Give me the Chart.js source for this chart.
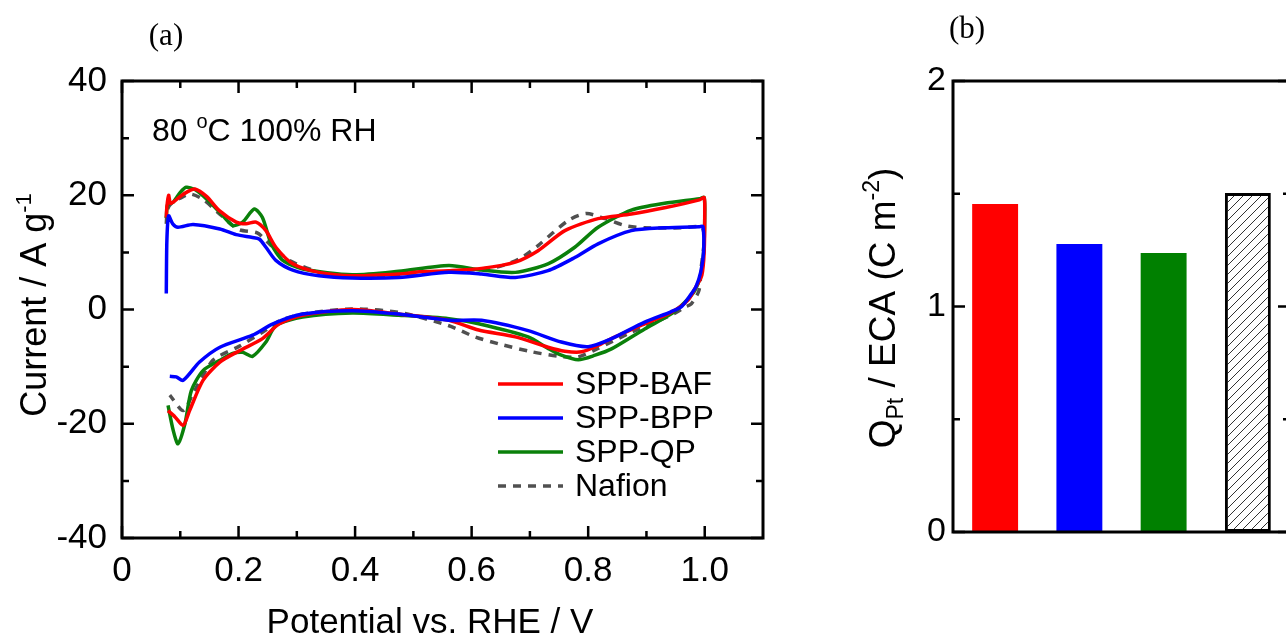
<!DOCTYPE html>
<html>
<head>
<meta charset="utf-8">
<script src="https://cdn.jsdelivr.net/npm/chart.js@4.4.1/dist/chart.umd.min.js"></script>
<style>
  html, body { margin: 0; padding: 0; background: #fff; overflow: hidden; }
  #wrap { position: relative; width: 1286px; height: 639px; overflow: hidden; }
  #cvChart { position: absolute; left: 0; top: 0; }
  #barChart { position: absolute; left: 800px; top: 0; }
</style>
</head>
<body>
<div id="wrap">
  <canvas id="cvChart" width="800" height="639"></canvas>
  <canvas id="barChart" width="520" height="639"></canvas>
</div>
<script>
// ---- data (a): cyclic voltammograms, anodic sweep then cathodic sweep ----
const bafV = [0.076, 0.077, 0.080, 0.083, 0.088, 0.100, 0.112, 0.125, 0.145, 0.167, 0.196, 0.213, 0.230, 0.247, 0.264, 0.293, 0.338, 0.395, 0.475, 0.510, 0.560, 0.617, 0.675, 0.714, 0.760, 0.817, 0.874, 0.931, 0.991, 0.999,
              1.000, 0.999, 0.995, 0.985, 0.971, 0.942, 0.897, 0.840, 0.817, 0.789, 0.760, 0.731, 0.675, 0.612, 0.561, 0.475, 0.395, 0.310, 0.270, 0.241, 0.202, 0.168, 0.139, 0.116, 0.105, 0.091, 0.079];
const bafI = [16.1, 18.0, 20.0, 18.6, 18.8, 19.8, 20.6, 21.1, 19.8, 17.3, 15.3, 15.0, 15.3, 13.8, 10.9, 8.0, 6.5, 5.9, 6.2, 6.6, 6.8, 7.2, 8.3, 10.3, 13.8, 15.9, 16.7, 17.8, 19.2, 19.6,
              17.0, 10.0, 6.0, 4.0, 1.6, -0.5, -2.5, -5.1, -6.3, -7.4, -7.3, -6.6, -4.8, -3.6, -1.9, -0.8, 0.0, -1.0, -2.5, -5.1, -7.2, -9.2, -12.4, -17.7, -20.3, -18.8, -17.7];

const bppV = [0.076, 0.077, 0.080, 0.087, 0.096, 0.122, 0.168, 0.196, 0.224, 0.236, 0.247, 0.264, 0.293, 0.338, 0.395, 0.475, 0.561, 0.617, 0.675, 0.731, 0.777, 0.817, 0.874, 0.931, 0.991, 0.997,
              0.998, 0.993, 0.985, 0.976, 0.960, 0.942, 0.897, 0.840, 0.800, 0.754, 0.697, 0.617, 0.561, 0.475, 0.395, 0.310, 0.259, 0.224, 0.168, 0.133, 0.105, 0.093, 0.082];
const bppI = [2.8, 12.0, 16.4, 15.0, 14.4, 14.9, 14.1, 13.1, 12.6, 12.3, 10.9, 8.6, 6.9, 5.9, 5.5, 5.6, 6.5, 6.2, 5.6, 6.8, 9.1, 11.5, 13.8, 14.3, 14.5, 14.5,
              10.0, 6.5, 4.0, 2.6, 0.5, -0.4, -2.2, -5.1, -6.5, -5.7, -3.7, -1.9, -1.9, -0.8, -0.2, -0.8, -2.5, -4.5, -6.6, -9.2, -12.4, -11.8, -11.7];

const qpV = [0.076, 0.078, 0.083, 0.088, 0.100, 0.110, 0.125, 0.139, 0.168, 0.190, 0.207, 0.227, 0.241, 0.256, 0.276, 0.310, 0.395, 0.475, 0.561, 0.617, 0.675, 0.731, 0.777, 0.817, 0.874, 0.931, 0.991, 0.999,
             1.000, 0.998, 0.993, 0.983, 0.965, 0.942, 0.897, 0.840, 0.812, 0.783, 0.754, 0.731, 0.697, 0.612, 0.561, 0.475, 0.395, 0.310, 0.264, 0.247, 0.224, 0.207, 0.190, 0.168, 0.139, 0.119, 0.108, 0.096, 0.088, 0.079];
const qpI = [16.0, 18.3, 18.6, 18.8, 20.5, 21.4, 21.0, 19.9, 17.0, 14.7, 15.3, 17.6, 16.1, 11.5, 8.6, 7.1, 6.1, 6.7, 7.7, 6.9, 6.5, 8.0, 10.9, 14.4, 17.4, 18.6, 19.4, 19.6,
             16.0, 10.0, 6.0, 3.3, 1.2, -0.8, -3.4, -6.9, -8.0, -8.8, -8.0, -6.8, -4.8, -2.5, -1.6, -1.0, -0.6, -1.3, -2.8, -5.7, -8.2, -7.5, -7.7, -8.9, -10.7, -14.2, -20.0, -23.5, -21.2, -16.8];

const nafV = [0.076, 0.078, 0.085, 0.100, 0.118, 0.140, 0.170, 0.200, 0.232, 0.253, 0.287, 0.340, 0.400, 0.500, 0.600, 0.650, 0.686, 0.714, 0.766, 0.797, 0.829, 0.863, 0.897, 0.960, 0.995,
              0.999, 0.994, 0.990, 0.977, 0.966, 0.942, 0.874, 0.817, 0.783, 0.750, 0.703, 0.646, 0.606, 0.560, 0.475, 0.395, 0.310, 0.270, 0.241, 0.200, 0.156, 0.122, 0.105, 0.082];
const nafI = [15.0, 17.5, 18.6, 19.5, 20.2, 19.2, 16.5, 14.0, 13.4, 11.5, 8.6, 6.5, 5.8, 6.3, 6.9, 7.6, 9.1, 11.2, 15.6, 16.8, 15.9, 14.7, 14.3, 14.3, 14.4,
              12.0, 7.4, 3.3, 1.0, 0.4, -1.0, -4.0, -6.8, -8.3, -8.2, -7.4, -6.0, -4.8, -2.8, -0.5, 0.1, -0.8, -2.0, -4.0, -6.5, -8.9, -14.7, -17.7, -15.0];

const seriesNames = ['SPP-BAF', 'SPP-BPP', 'SPP-QP', 'Nafion'];

const xTickValues = [0, 0.2, 0.4, 0.6, 0.8, 1.0];
const xTickLabels = ['0', '0.2', '0.4', '0.6', '0.8', '1.0'];
const xMinorValues = [0.1, 0.3, 0.5, 0.7, 0.9];
const yTickValues = [-40, -20, 0, 20, 40];
const yTickLabels = ['-40', '-20', '0', '20', '40'];
const yMinorValues = [-30, -10, 10, 30];

// ---- data (b): Q_Pt / ECA ----
const barLabels = ['SPP-BAF', 'SPP-BPP', 'SPP-QP', 'Nafion'];
const barValues = [1.455, 1.277, 1.237, 1.503];
const bTickValues = [0, 1, 2];
const bTickLabels = ['0', '1', '2'];
const bMinorValues = [0.5, 1.5];

const SANS = '"Liberation Sans", Arial, sans-serif';
const SERIF = '"Liberation Serif", "Times New Roman", serif';

function pts(xs, ys) {
    return xs.map((x, i) => ({ x: x, y: ys[i] }));
}

// text with sub/superscripts; parts = [{t, sup?, sub?}]
function drawRich(ctx, parts, x, y, size, rot, align) {
    ctx.save();
    ctx.translate(x, y);
    ctx.rotate(rot || 0);
    ctx.textBaseline = 'alphabetic';
    ctx.fillStyle = '#000';
    let w = 0;
    parts.forEach(p => {
        ctx.font = (p.sup || p.sub ? Math.round(size * 0.62) : size) + 'px ' + SANS;
        w += ctx.measureText(p.t).width;
    });
    let cx = align === 'left' ? 0 : -w / 2;
    parts.forEach(p => {
        ctx.font = (p.sup || p.sub ? Math.round(size * 0.62) : size) + 'px ' + SANS;
        ctx.textAlign = 'left';
        const dy = p.sup ? -size * 0.42 : (p.sub ? size * 0.22 : 0);
        ctx.fillText(p.t, cx, dy);
        cx += ctx.measureText(p.t).width;
    });
    ctx.restore();
}

// frame with inward ticks on all sides
const framePlugin = {
    id: 'frame',
    afterDatasetsDraw(chart, args, o) {
        const { ctx, chartArea: a } = chart;
        const xs = chart.scales.x, ys = chart.scales.y;
        ctx.save();
        ctx.strokeStyle = '#000';
        ctx.lineWidth = 3;
        ctx.strokeRect(a.left, a.top, a.right - a.left, a.bottom - a.top);
        ctx.lineWidth = 2.5;
        ctx.beginPath();
        const tick = (vals, len, isX) => {
            vals.forEach(v => {
                if (isX) {
                    const px = xs.getPixelForValue(v);
                    ctx.moveTo(px, a.bottom); ctx.lineTo(px, a.bottom - len);
                    ctx.moveTo(px, a.top); ctx.lineTo(px, a.top + len);
                } else {
                    const py = ys.getPixelForValue(v);
                    ctx.moveTo(a.left, py); ctx.lineTo(a.left + len, py);
                    ctx.moveTo(a.right, py); ctx.lineTo(a.right - len, py);
                }
            });
        };
        if (o.xMajor) tick(o.xMajor, 12, true);
        if (o.xMinor) tick(o.xMinor, 7, true);
        tick(o.yMajor, 12, false);
        tick(o.yMinor, 7, false);
        ctx.stroke();
        ctx.restore();
    }
};

// titles, panel label, legend, annotation
const decorPlugin = {
    id: 'decor',
    afterDraw(chart, args, o) {
        const { ctx, chartArea: a } = chart;
        ctx.save();
        ctx.fillStyle = '#000';
        ctx.font = '31px ' + SERIF;
        ctx.textAlign = 'center';
        ctx.textBaseline = 'middle';
        ctx.fillText(o.panel, o.panelX, o.panelY);
        ctx.restore();
        if (o.xTitle) drawRich(ctx, o.xTitle, o.xTitleX, o.xTitleY, 35, 0);
        drawRich(ctx, o.yTitle, o.yTitleX, o.yTitleY, o.yTitleSize, -Math.PI / 2);
        if (o.note) drawRich(ctx, o.note, a.left + 30, a.top + 60, 32, 0, 'left');
        if (o.legend) {
            const ds = chart.data.datasets;
            ctx.save();
            ctx.font = '32px ' + SANS;
            ctx.textBaseline = 'middle';
            ctx.textAlign = 'left';
            ctx.fillStyle = '#000';
            o.legend.forEach((name, i) => {
                const d = ds.find(s => s.label === name);
                const y = a.top + 303 + i * 34;
                const x0 = a.left + 376;
                ctx.strokeStyle = d.borderColor;
                ctx.lineWidth = 3.5;
                ctx.setLineDash(d.borderDash || []);
                ctx.beginPath();
                ctx.moveTo(x0, y);
                ctx.lineTo(x0 + 65, y);
                ctx.stroke();
                ctx.setLineDash([]);
                ctx.fillText(name, x0 + 77, y + 1);
            });
            ctx.restore();
        }
    }
};

Chart.defaults.font.family = SANS;
Chart.defaults.color = '#000';

function line(label, xs, ys, color, order, dash) {
    return {
        label: label,
        data: pts(xs, ys),
        showLine: true,
        borderColor: color,
        backgroundColor: color,
        borderWidth: 3.5,
        borderDash: dash || [],
        pointRadius: 0,
        tension: 0.25,
        fill: false,
        order: order
    };
}

new Chart(document.getElementById('cvChart').getContext('2d'), {
    type: 'scatter',
    data: {
        datasets: [
            line(seriesNames[0], bafV, bafI, '#ff0000', 2),
            line(seriesNames[1], bppV, bppI, '#0000ff', 1),
            line(seriesNames[2], qpV, qpI, '#0a800a', 3),
            line(seriesNames[3], nafV, nafI, '#505050', 4, [8, 7])
        ]
    },
    options: {
        responsive: false,
        animation: false,
        layout: { padding: { top: 81, right: 37, left: 0, bottom: 0 } },
        plugins: {
            legend: { display: false },
            tooltip: { enabled: false },
            frame: { xMajor: xTickValues, xMinor: xMinorValues, yMajor: yTickValues, yMinor: yMinorValues },
            decor: {
                panel: '(a)', panelX: 166, panelY: 37,
                xTitle: [{ t: 'Potential vs. RHE / V' }], xTitleX: 430, xTitleY: 633,
                yTitle: [{ t: 'Current / A g' }, { t: '-1', sup: true }], yTitleX: 46, yTitleY: 305, yTitleSize: 36,
                note: [{ t: '80 ' }, { t: 'o', sup: true }, { t: 'C 100% RH' }],
                legend: seriesNames
            }
        },
        scales: {
            x: {
                type: 'linear', min: 0, max: 1.1,
                grid: { display: false, drawTicks: false },
                border: { display: false },
                afterBuildTicks: s => { s.ticks = xTickValues.map(v => ({ value: v })); },
                afterFit: s => { s.height = 101; },
                ticks: { padding: 12, font: { size: 35 }, maxRotation: 0, autoSkip: false,
                         callback: (v, i) => xTickLabels[i] }
            },
            y: {
                type: 'linear', min: -40, max: 40,
                grid: { display: false, drawTicks: false },
                border: { display: false },
                afterBuildTicks: s => { s.ticks = yTickValues.map(v => ({ value: v })); },
                afterFit: s => { s.width = 122; },
                ticks: { padding: 15, font: { size: 35 }, autoSkip: false,
                         callback: (v, i) => yTickLabels[i] }
            }
        }
    },
    plugins: [framePlugin, decorPlugin]
});

// hatch for the Nafion bar
const pc = document.createElement('canvas');
pc.width = 9; pc.height = 9;
const pctx = pc.getContext('2d');
pctx.fillStyle = '#fff';
pctx.fillRect(0, 0, 9, 9);
pctx.strokeStyle = '#333';
pctx.lineWidth = 1;
pctx.beginPath();
pctx.moveTo(0, 9); pctx.lineTo(9, 0);
pctx.moveTo(-1, 1); pctx.lineTo(1, -1);
pctx.moveTo(8, 10); pctx.lineTo(10, 8);
pctx.stroke();
const bctx = document.getElementById('barChart').getContext('2d');
const hatch = bctx.createPattern(pc, 'repeat');

new Chart(bctx, {
    type: 'bar',
    data: {
        labels: barLabels,
        datasets: [{
            data: barValues,
            backgroundColor: ['#ff0000', '#0000ff', '#008000', hatch],
            borderColor: ['#ff0000', '#0000ff', '#008000', '#000'],
            borderWidth: [0, 0, 0, 3],
            borderSkipped: false,
            barPercentage: 0.545,
            categoryPercentage: 1
        }]
    },
    options: {
        responsive: false,
        animation: false,
        layout: { padding: { top: 81, right: 30, left: 0, bottom: 107 } },
        plugins: {
            legend: { display: false },
            tooltip: { enabled: false },
            frame: { yMajor: bTickValues, yMinor: bMinorValues },
            decor: {
                panel: '(b)', panelX: 167, panelY: 30,
                yTitle: [{ t: 'Q' }, { t: 'Pt', sub: true }, { t: ' / ECA (C m' }, { t: '-2', sup: true }, { t: ')' }],
                yTitleX: 95, yTitleY: 308, yTitleSize: 37
            }
        },
        scales: {
            x: { display: false },
            y: {
                min: 0, max: 2,
                grid: { display: false, drawTicks: false },
                border: { display: false },
                afterBuildTicks: s => { s.ticks = bTickValues.map(v => ({ value: v })); },
                afterFit: s => { s.width = 153; },
                ticks: { padding: 7, font: { size: 34 }, autoSkip: false,
                         callback: (v, i) => bTickLabels[i] }
            }
        }
    },
    plugins: [framePlugin, decorPlugin]
});
</script>
</body>
</html>
